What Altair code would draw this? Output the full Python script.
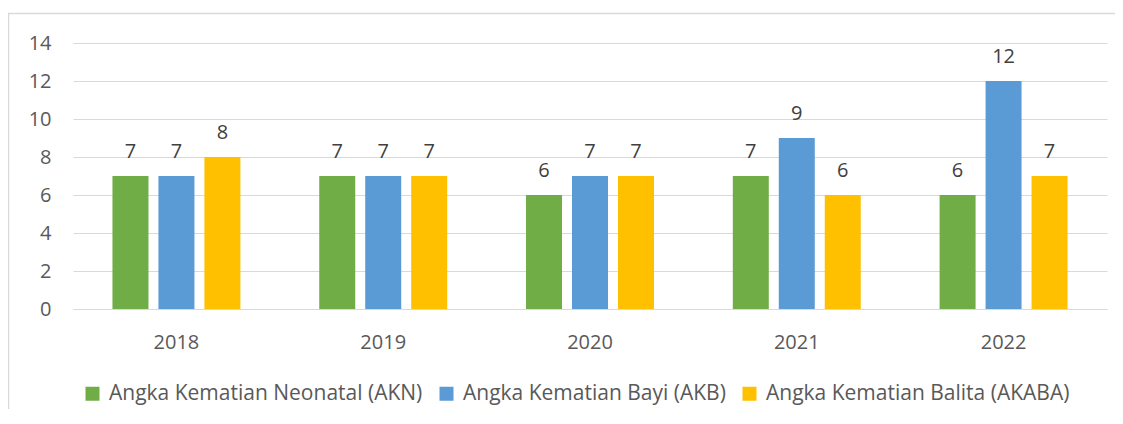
import altair as alt
import pandas as pd

years = ["2018", "2019", "2020", "2021", "2022"]
series = ["Angka Kematian Neonatal (AKN)", "Angka Kematian Bayi (AKB)", "Angka Kematian Balita (AKABA)"]
akn = [7, 7, 6, 7, 6]
akb = [7, 7, 7, 9, 12]
akaba = [8, 7, 7, 6, 7]
colors = ["#70AD47", "#5B9BD5", "#FFC000"]
y_ticks = [0, 2, 4, 6, 8, 10, 12, 14]

rows = []
for s, vals in zip(series, [akn, akb, akaba]):
    for yr, v in zip(years, vals):
        rows.append({"Tahun": yr, "Seri": s, "Nilai": v})
df = pd.DataFrame(rows)

FONT = "Open Sans"
TXT = "#595959"
GRID = "#D9D9D9"
FS = 20

x = alt.X("Tahun:N", sort=years,
          scale=alt.Scale(paddingInner=0.333, paddingOuter=0.1667),
          axis=alt.Axis(title=None, labelAngle=0, ticks=False, tickSize=0, domain=True,
                        domainColor=GRID, labelFont=FONT, labelFontSize=FS, labelColor=TXT,
                        labelBaseline="alphabetic", labelPadding=39, grid=False))
xo = alt.XOffset("Seri:N", sort=series,
                 scale=alt.Scale(paddingInner=0.217, paddingOuter=0.1085))
y = alt.Y("Nilai:Q", scale=alt.Scale(domain=[0, 14], nice=False),
          axis=alt.Axis(title=None, values=y_ticks, grid=True, gridColor=GRID, domain=False,
                        ticks=False, tickSize=0, labelPadding=22, labelFont=FONT,
                        labelFontSize=FS, labelColor=TXT))
color = alt.Color("Seri:N", sort=series, scale=alt.Scale(domain=series, range=colors),
                  legend=alt.Legend(title=None, orient="none", direction="horizontal",
                                    legendX=9, legendY=340, symbolType="square",
                                    symbolSize=196, symbolStrokeWidth=0, labelFont=FONT,
                                    labelFontSize=21, labelColor=TXT, labelOffset=6,
                                    columnPadding=13, labelLimit=500, padding=0))

base = alt.Chart(df)
bars = base.mark_bar().encode(x=x, xOffset=xo, y=y, color=color)
labels = base.mark_text(font=FONT, fontSize=FS, color="#404040", baseline="alphabetic",
                        dy=-18).encode(x=x, xOffset=xo, y=y, text="Nilai:Q")

border = alt.Chart(pd.DataFrame({"a": [0]})).mark_rect(
    fill=None, stroke=GRID, strokeWidth=1.5).encode(
    x=alt.value(-64.5), x2=alt.value(1200), y=alt.value(-29.5), y2=alt.value(600))

chart = alt.layer(border, bars, labels).properties(
    width=1034, height=266,
    background="white",
    autosize=alt.AutoSizeParams(type="none"),
    padding={"left": 65, "top": 35, "right": 8, "bottom": 100},
).configure_view(stroke="transparent", strokeWidth=0)

chart.save("out.html", embed_options={"renderer": "svg", "actions": False})
